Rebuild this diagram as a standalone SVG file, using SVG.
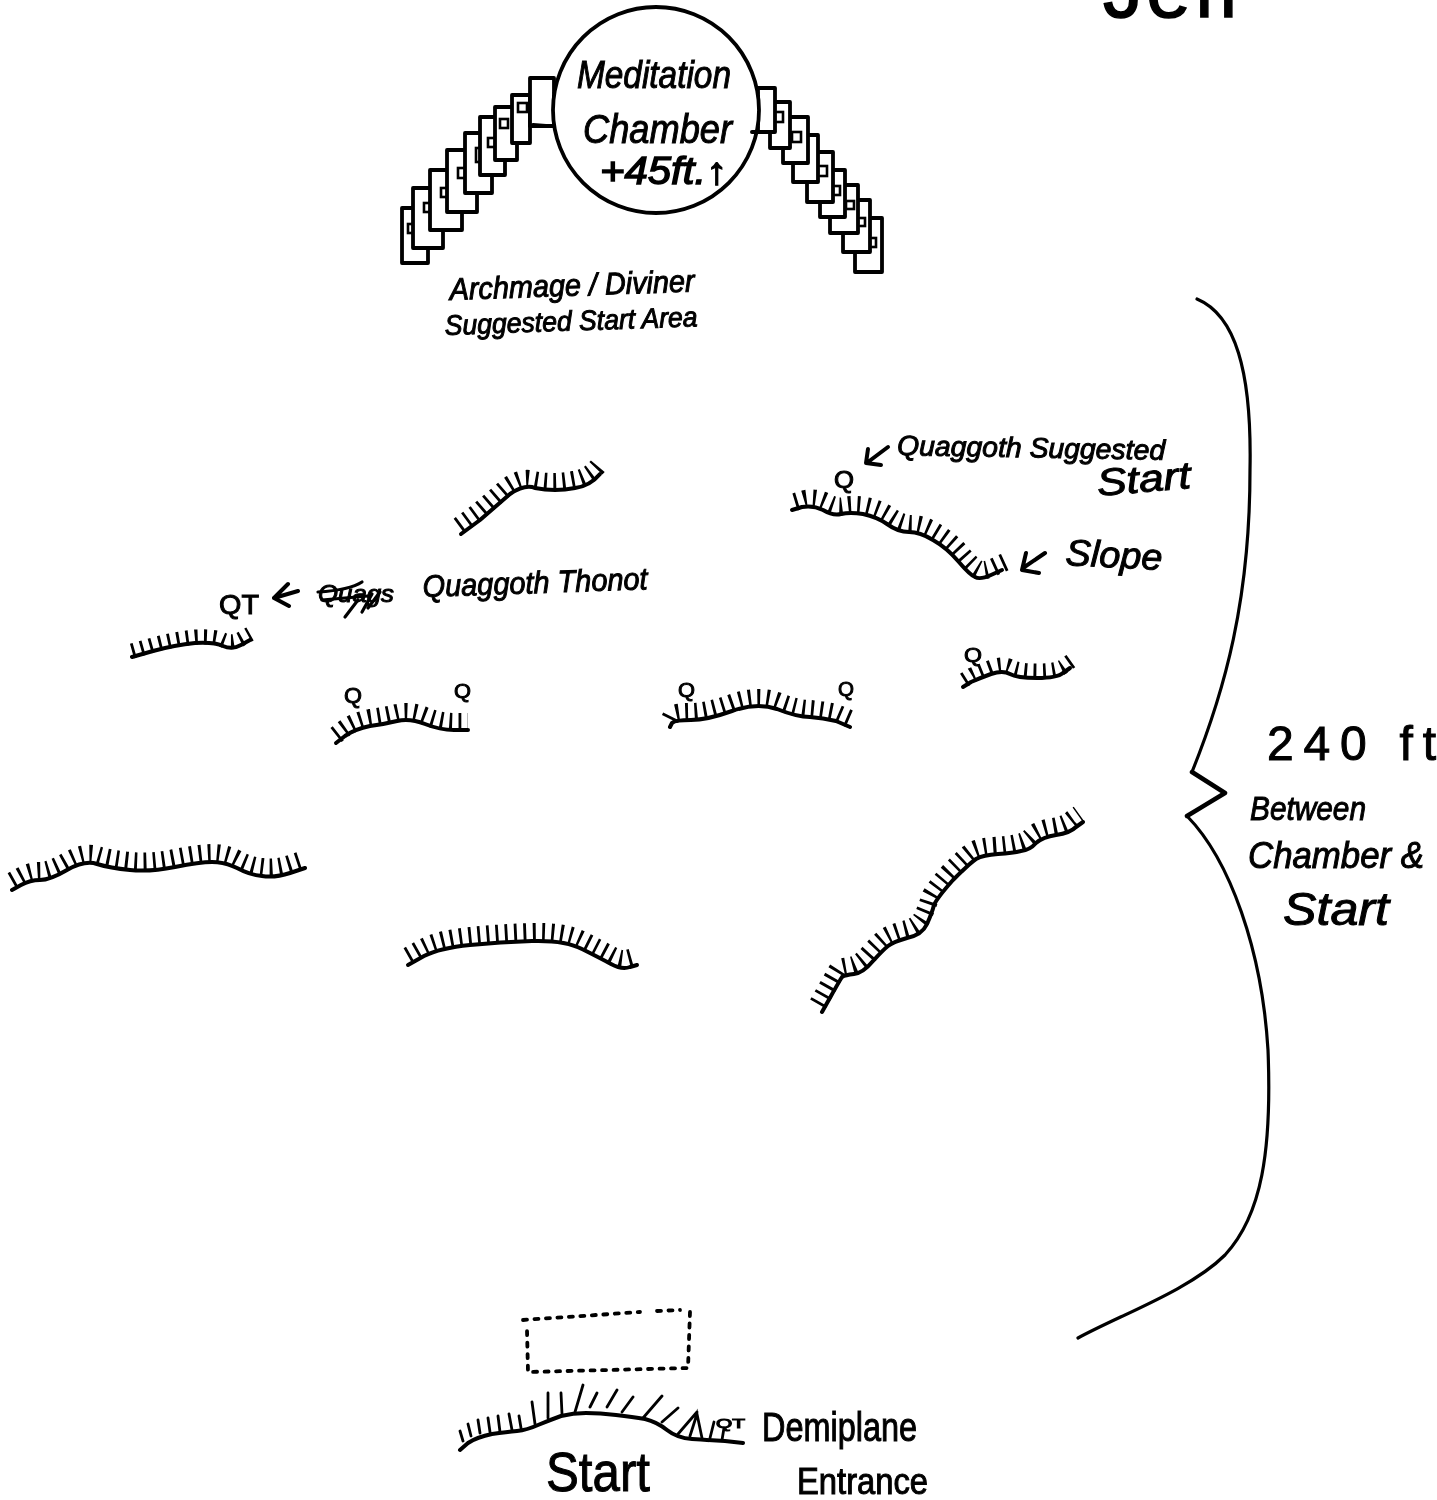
<svg xmlns="http://www.w3.org/2000/svg" width="1437" height="1500" viewBox="0 0 1437 1500">
<style>
.g{fill:none;stroke:#000;stroke-width:4;stroke-linecap:round;stroke-linejoin:round}
.h{fill:none;stroke:#000;stroke-width:18;stroke-dasharray:2.8 6.4}
.t{fill:none;stroke:#000;stroke-width:2.8;stroke-linecap:round}
.c{fill:#fff;stroke:#000;stroke-width:3.8;stroke-linejoin:round}
.d{fill:#fff;stroke:#000;stroke-width:2.6}
.b{fill:none;stroke:#000;stroke-width:3.2;stroke-linecap:round;stroke-linejoin:round}
text{font-family:"Liberation Sans","DejaVu Sans",sans-serif;font-style:italic;fill:#000;stroke:#000;stroke-width:1}
.u{font-style:normal}
</style>
<defs>
<filter id="soft" x="0" y="0" width="1437" height="1500" filterUnits="userSpaceOnUse"><feGaussianBlur stdDeviation="0.55"/></filter>
<path id="p1" d="M461 534L480 520L510 494Q525 484 535 488Q555 492 575 488Q590 486 600 474"/>
<path id="p2" d="M792 510L802 507Q813 505 823 510Q833 516 841 514Q850 512 863 514Q877 517 887 524Q898 532 909 532Q920 532 933 540Q947 548 958 561Q970 575 975 577Q980 580 991 575L1002 570"/>
<path id="p3" d="M963 687L971 682Q980 678 991 674Q1003 670 1010 674Q1017 678 1037 678Q1057 678 1063 673L1070 668"/>
<path id="p4" d="M132 657L153 651Q175 645 195 643Q215 642 223 646Q232 650 241 645L250 640"/>
<path id="p5" d="M336 743L345 736Q355 729 370 726Q385 724 397 721Q410 718 425 724Q440 730 454 730L468 730"/>
<path id="p6" d="M670 727L672 723Q675 720 691 720Q707 720 732 711Q757 702 777 709Q797 717 810 717Q823 718 836 721L850 727"/>
<path id="p7" d="M12 890L21 885Q30 880 40 880Q50 880 67 870Q85 860 97 864Q110 868 130 870Q150 872 175 867Q200 862 212 862Q225 862 237 868Q250 875 262 876Q275 878 290 873L305 868"/>
<path id="p8" d="M408 965L424 956Q440 948 470 945Q500 942 532 941Q565 940 582 949Q600 958 611 964Q622 970 630 967L637 965"/>
<path id="p9" d="M822 1012L831 996Q840 980 842 977Q845 975 854 974Q863 973 873 961Q883 950 888 946Q893 942 907 938Q922 935 927 924Q932 913 934 905Q937 898 953 880Q970 863 976 859Q983 855 998 854Q1013 853 1021 851Q1030 850 1036 843Q1043 837 1056 835Q1070 833 1076 827L1083 822"/>
</defs>
<rect width="1437" height="1500" fill="#fff"/>
<g filter="url(#soft)">
<g id="chamber-steps-left">
<rect class="c" x="402" y="208" width="26" height="55"/><rect class="d" x="408" y="224" width="8" height="9"/>
<rect class="c" x="413" y="188" width="30" height="60"/><rect class="d" x="424" y="203" width="8" height="9"/>
<rect class="c" x="430" y="170" width="32" height="60"/><rect class="d" x="441" y="188" width="8" height="9"/>
<rect class="c" x="447" y="150" width="30" height="62"/><rect class="d" x="458" y="168" width="8" height="10"/>
<rect class="c" x="465" y="133" width="27" height="60"/><rect class="d" x="476" y="148" width="7" height="14"/>
<rect class="c" x="480" y="117" width="25" height="58"/><rect class="d" x="488" y="138" width="8" height="9"/>
<rect class="c" x="495" y="107" width="22" height="53"/><rect class="d" x="500" y="119" width="8" height="9"/>
<rect class="c" x="512" y="95" width="18" height="48"/><rect class="d" x="518" y="103" width="9" height="9"/>
<rect class="c" x="530" y="78" width="24" height="48"/>
</g>
<g id="chamber-steps-right">
<rect class="c" x="855" y="218" width="27" height="54"/><rect class="d" x="868" y="238" width="8" height="9"/>
<rect class="c" x="843" y="200" width="27" height="52"/><rect class="d" x="857" y="218" width="8" height="8"/>
<rect class="c" x="830" y="185" width="28" height="48"/><rect class="d" x="846" y="201" width="8" height="8"/>
<rect class="c" x="820" y="170" width="25" height="47"/><rect class="d" x="832" y="186" width="8" height="9"/>
<rect class="c" x="807" y="152" width="26" height="50"/><rect class="d" x="817" y="166" width="10" height="10"/>
<rect class="c" x="793" y="135" width="25" height="47"/>
<rect class="c" x="783" y="117" width="25" height="46"/><rect class="d" x="792" y="132" width="9" height="10"/>
<rect class="c" x="770" y="102" width="20" height="46"/><rect class="d" x="774" y="112" width="9" height="10"/>
<rect class="c" x="758" y="88" width="17" height="44"/>
</g>
<g id="meditation-chamber">
<circle class="c" cx="656" cy="110" r="103"/>
<path class="g" d="M533 125L546 126M752 132L765 132"/>
<text x="577" y="88" font-size="38" textLength="154" lengthAdjust="spacingAndGlyphs">Meditation</text>
<text x="583" y="143" font-size="40" textLength="149" lengthAdjust="spacingAndGlyphs">Chamber</text>
<text x="600" y="184" font-size="38" textLength="127" lengthAdjust="spacingAndGlyphs" style="stroke-width:1.4">+45ft.↑</text>
</g>
<g id="archmage-label">
<text transform="rotate(-2 450 300)" x="450" y="300" font-size="31" textLength="245" lengthAdjust="spacingAndGlyphs">Archmage / Diviner</text>
<text transform="rotate(-2 445 335)" x="445" y="335" font-size="28" textLength="253" lengthAdjust="spacingAndGlyphs">Suggested Start Area</text>
</g>
<g id="slope-1"><use href="#p1" class="g"/><use href="#p1" class="h" transform="translate(-2 -8)"/></g>
<g id="slope-2"><use href="#p2" class="g"/><use href="#p2" class="h" transform="translate(3 -8)"/>
<text class="u" x="834" y="488" font-size="23" textLength="20" lengthAdjust="spacingAndGlyphs">Q</text></g>
<g id="slope-3"><use href="#p3" class="g"/><use href="#p3" class="h" transform="translate(1 -7)" style="stroke-width:15"/>
<text class="u" x="964" y="662" font-size="21" textLength="18" lengthAdjust="spacingAndGlyphs">Q</text></g>
<g id="slope-4"><use href="#p4" class="g"/><use href="#p4" class="h" transform="translate(0 -6)" style="stroke-width:15"/></g>
<g id="slope-5"><use href="#p5" class="g"/><use href="#p5" class="h" transform="translate(0 -8)"/>
<text class="u" x="344" y="703" font-size="22" textLength="18" lengthAdjust="spacingAndGlyphs">Q</text>
<text class="u" x="454" y="698" font-size="21" textLength="17" lengthAdjust="spacingAndGlyphs">Q</text></g>
<g id="slope-6"><use href="#p6" class="g"/><use href="#p6" class="h" transform="translate(0 -8)"/>
<text class="u" x="678" y="697" font-size="21" textLength="17" lengthAdjust="spacingAndGlyphs">Q</text>
<text class="u" x="838" y="696" font-size="21" textLength="16" lengthAdjust="spacingAndGlyphs">Q</text></g>
<g id="slope-7"><use href="#p7" class="g"/><use href="#p7" class="h" transform="translate(0 -9)"/></g>
<g id="slope-8"><use href="#p8" class="g"/><use href="#p8" class="h" transform="translate(0 -9)"/></g>
<g id="slope-9"><use href="#p9" class="g"/><use href="#p9" class="h" transform="translate(-4 -8)"/></g>
<g id="start-slope">
<path class="g" d="M460 1450L468 1443Q477 1437 492 1434Q507 1432 517 1431Q527 1430 538 1425Q550 1420 561 1416Q573 1413 586 1413Q600 1413 616 1415Q633 1417 645 1419Q657 1422 667 1430Q677 1438 692 1439Q707 1440 725 1441L743 1443"/>
<path class="t" d="M463 1441L460 1431M471 1436L468 1424M480 1433L478 1420M490 1432L488 1418M500 1432L498 1416M512 1430L509 1414M521 1428L519 1416M535 1424L532 1402M548 1418L548 1393M562 1414L561 1393M575 1412L583 1385M590 1407L597 1393M607 1407L617 1390M622 1412L633 1397M643 1418L662 1396M662 1422L678 1408M678 1434L697 1412M690 1436L697 1414L702 1438M710 1438L714 1422M722 1440L724 1428"/>
<text class="u" x="716" y="1428" font-size="13" textLength="29" lengthAdjust="spacingAndGlyphs">QT</text>
</g>
<g id="demiplane-box">
<path class="g" style="stroke-width:3.8;stroke-dasharray:4 7.5" d="M523 1320L640 1312M657 1311L680 1310M690 1312L688 1368L528 1372L527 1330"/>
</g>
<g id="labels">
<text x="1103" y="17" font-size="80" textLength="137" class="u" style="stroke-width:1.5">Jeff</text>
<text transform="rotate(1 897 455)" x="897" y="455" font-size="28" textLength="268" lengthAdjust="spacingAndGlyphs">Quaggoth Suggested</text>
<text transform="rotate(-5 1098 496)" x="1098" y="496" font-size="38" textLength="94" lengthAdjust="spacingAndGlyphs">Start</text>
<text transform="rotate(3 1065 565)" x="1065" y="565" font-size="37" textLength="97" lengthAdjust="spacingAndGlyphs">Slope</text>
<text class="u" x="219" y="614" font-size="28" textLength="40" lengthAdjust="spacingAndGlyphs">QT</text>
<text x="318" y="602" font-size="24" textLength="76" lengthAdjust="spacingAndGlyphs">Quags</text>
<path class="b" d="M318 592Q350 590 362 582M322 600L368 596M358 600L345 617M372 594L362 612M380 592L368 608"/>
<text transform="rotate(-2 423 597)" x="423" y="597" font-size="31" textLength="225" lengthAdjust="spacingAndGlyphs">Quaggoth Thonot</text>
<text class="u" x="1267" y="760" font-size="48" textLength="169" lengthAdjust="spacing">240 ft</text>
<text x="1250" y="820" font-size="34" textLength="116" lengthAdjust="spacingAndGlyphs">Between</text>
<text x="1248" y="868" font-size="37" textLength="176" lengthAdjust="spacingAndGlyphs">Chamber &amp;</text>
<text x="1283" y="925" font-size="46" textLength="106" lengthAdjust="spacingAndGlyphs">Start</text>
<text class="u" x="546" y="1491" font-size="56" textLength="104" lengthAdjust="spacingAndGlyphs">Start</text>
<text class="u" x="762" y="1441" font-size="40" textLength="155" lengthAdjust="spacingAndGlyphs">Demiplane</text>
<text class="u" x="797" y="1494" font-size="36" textLength="131" lengthAdjust="spacingAndGlyphs">Entrance</text>
</g>
<g id="connectors">
<path class="g" d="M888 447L868 462M868 449L866 463L881 465"/>
<path class="g" d="M1045 553L1023 568M1026 553L1022 570L1039 573"/>
<path class="g" d="M298 591L274 598M288 584L274 598L289 606"/>
<path class="b" d="M1197 299C1235 315 1252 370 1250 470C1250 600 1225 690 1192 772"/>
<path class="b" style="stroke-width:4.5" d="M1192 772L1225 793L1187 816"/>
<path class="b" d="M1187 816C1230 860 1262 950 1268 1050C1272 1150 1262 1215 1225 1255C1190 1290 1120 1315 1078 1338"/>
</g>
</g>
</svg>
